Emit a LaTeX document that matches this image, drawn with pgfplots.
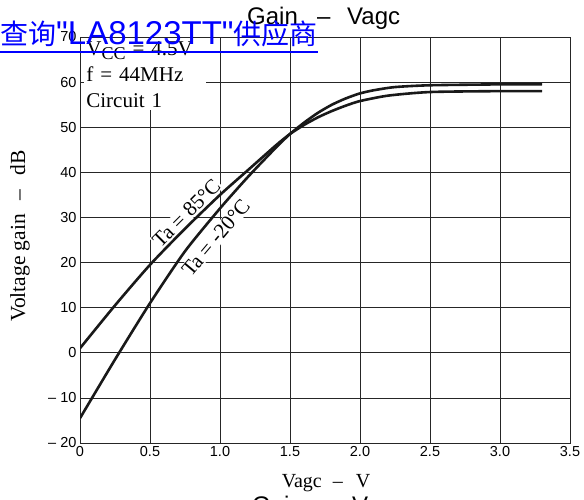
\documentclass[border=0pt]{standalone}
\usepackage{fontspec}
\setmainfont{Liberation Serif}
\setsansfont{Liberation Sans}
\newfontfamily\linkfont[Ligatures=TeXOff]{Liberation Sans}
\newfontfamily\cjk{Noto Sans CJK SC}
\usepackage{pgfplots}
\pgfplotsset{compat=1.18}

\newcommand{\serifsize}{\fontsize{21}{26}\selectfont}

\begin{document}
\begin{tikzpicture}
\useasboundingbox (0,0) rectangle (584pt,500pt);
\clip (0,0) rectangle (584pt,500pt);
\begin{axis}[
    at={(80pt,57pt)}, anchor=south west,
    scale only axis, width=490pt, height=406pt,
    xmin=0, xmax=3.5, ymin=-20, ymax=70,
    xtick={0,0.5,...,3.5}, ytick={-20,-10,...,70},
    xticklabels={0,0.5,1.0,1.5,2.0,2.5,3.0,3.5},
    yticklabels={\textendash\ 20,\textendash\ 10,0,10,20,30,40,50,60,70},
    tick label style={font=\sffamily\fontsize{14.5}{14.5}\selectfont},
    major tick length=0pt,
    grid=major,
    major grid style={black!85, line width=0.7pt},
    axis line style={black!85, line width=0.9pt},
]
% condition box and curve labels (white fill cuts the grid)
\node[anchor=north west, fill=white, inner sep=2pt, text width=118pt, align=left,
      font=\serifsize] at (axis cs:0.03,69.4)
  {V\raisebox{-0.4ex}{\fontsize{18}{18}\selectfont CC} = 4.5V\\ f = 44MHz\\ Circuit 1};
\node[rotate=45, fill=white, inner sep=1pt, font=\serifsize] at (axis cs:0.76,31) {Ta = 85\textdegree C};
\node[rotate=50, fill=white, inner sep=1pt, font=\serifsize] at (axis cs:0.97,25.5) {Ta = -20\textdegree C};

% Ta = -20 C
\addplot[black!90, line width=2.6pt, smooth, tension=0.4] coordinates {
  (0,-14.5) (0.25,-1.5) (0.5,11) (0.75,22.5) (1.0,32) (1.2,39) (1.4,45.5)
  (1.5,48.5) (1.6,51) (1.7,53.2) (1.8,55) (1.9,56.4) (2.0,57.5) (2.1,58.2)
  (2.25,58.9) (2.5,59.3) (3.0,59.5) (3.3,59.5)
};
% Ta = 85 C
\addplot[black!90, line width=2.6pt, smooth, tension=0.4] coordinates {
  (0,1) (0.25,10.5) (0.5,19.5) (0.75,27.5) (1.0,35) (1.2,40.5) (1.4,46)
  (1.5,48.5) (1.6,50.5) (1.7,52.2) (1.8,53.6) (1.9,54.8) (2.0,55.8)
  (2.2,57) (2.5,57.8) (3.0,58) (3.3,58)
};
\end{axis}

% axis titles
\node[rotate=90, anchor=base, font=\fontsize{21.5}{21.5}\selectfont] at (25pt,264pt)
  {Voltage gain\hspace{14pt}\textendash\hspace{14pt}dB};
\node[anchor=base, font=\fontsize{20}{20}\selectfont] at (326pt,12pt)
  {Vagc\hspace{11pt}\textendash\hspace{13pt}V};

% page titles
\node[anchor=base west, inner sep=0pt, font=\sffamily\fontsize{24}{24}\selectfont]
  at (247pt,475pt) {Gain\hspace{0.8em}\textendash\hspace{0.7em}Vagc};
\node[anchor=base west, inner sep=0pt, font=\sffamily\fontsize{24}{24}\selectfont]
  at (252pt,-14pt) {Gain\hspace{0.8em}\textendash\hspace{0.7em}Vagc};

% link text on top
\node[anchor=base west, inner sep=0pt, text=blue] at (0pt,455pt)
  {{\cjk\fontsize{28}{28}\selectfont 查询}{\linkfont\fontsize{33}{33}\selectfont "LA8123TT"}{\cjk\fontsize{28}{28}\selectfont 供应商}};
\draw[blue, line width=1.5pt] (0pt,448pt) -- (318pt,448pt);
\end{tikzpicture}
\end{document}
